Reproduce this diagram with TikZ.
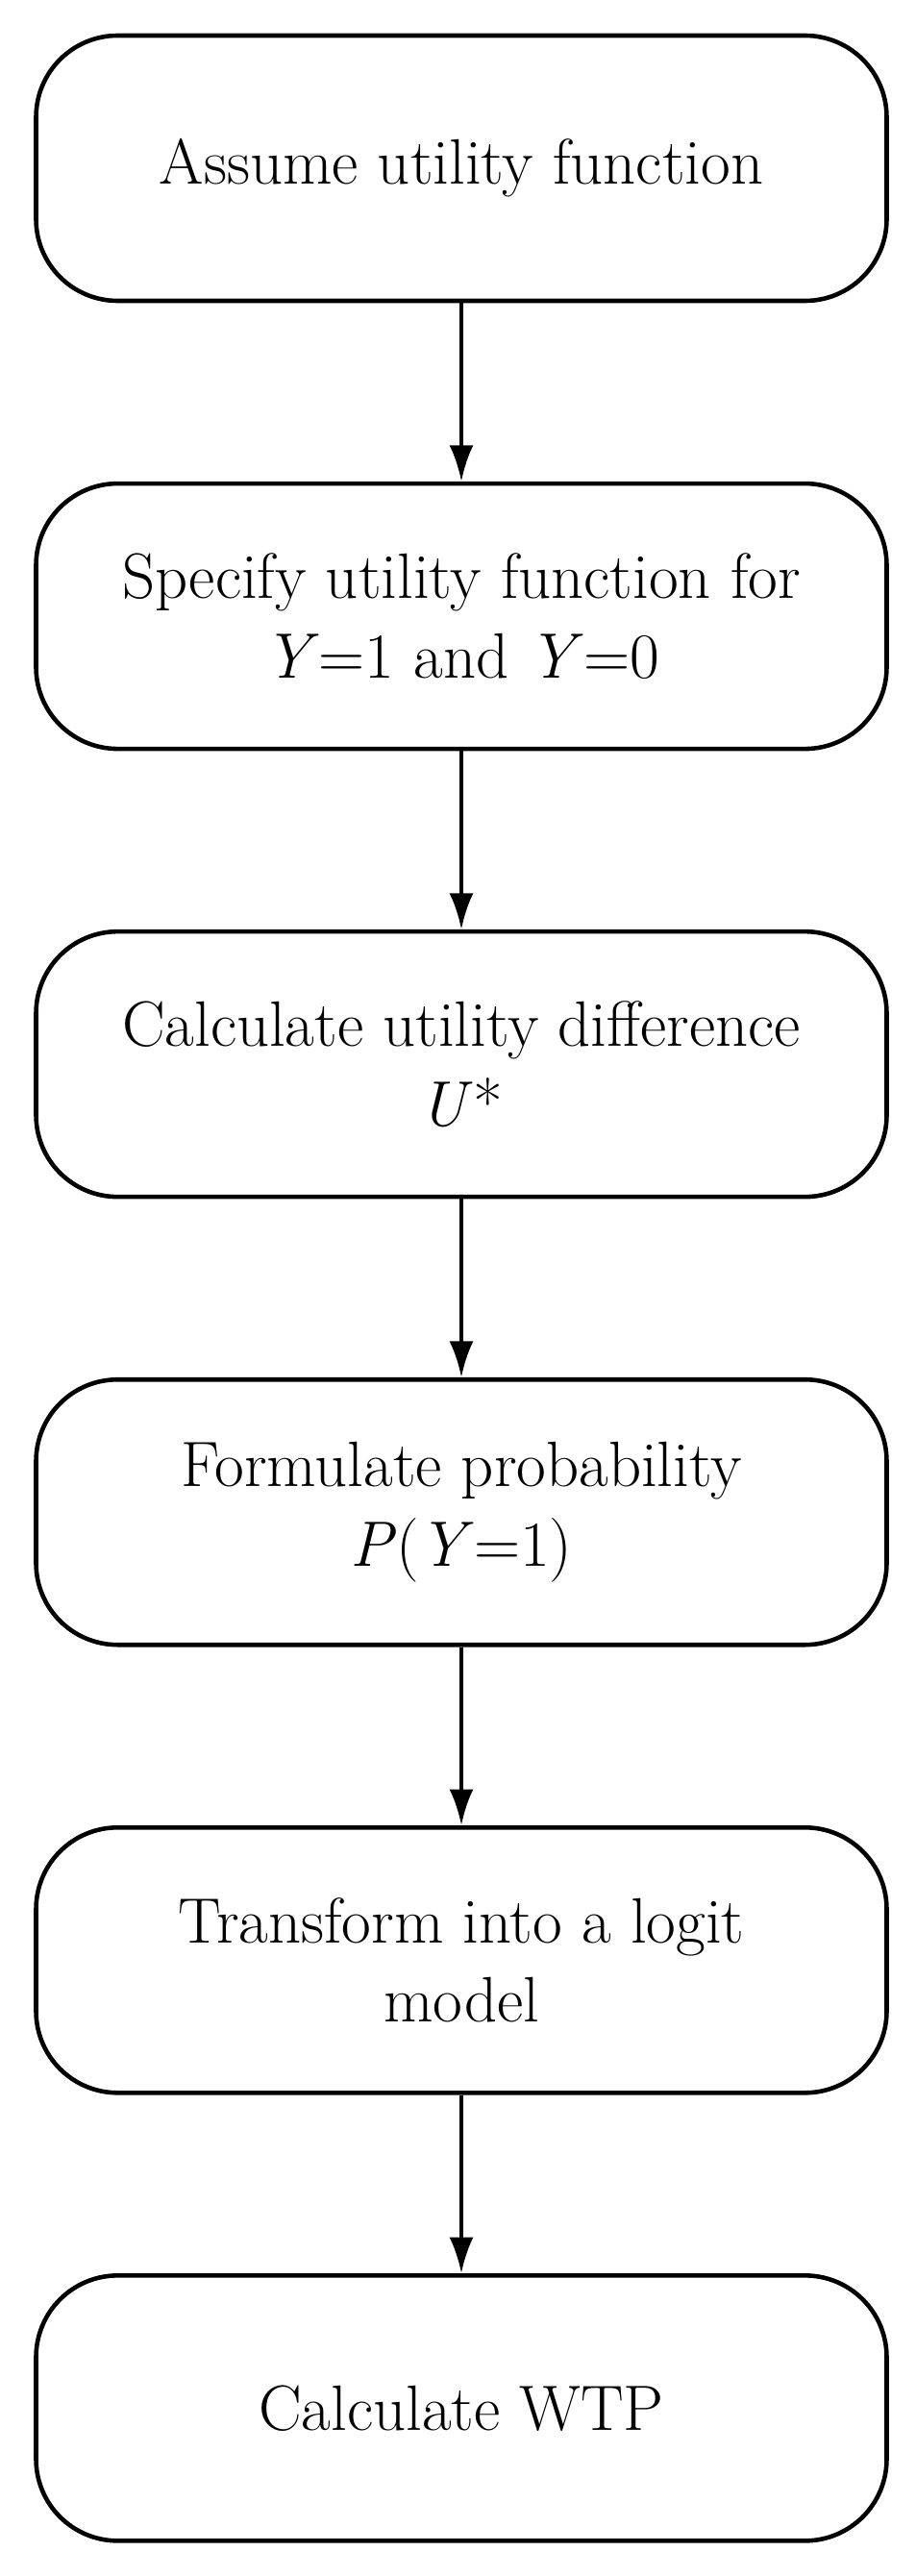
\documentclass[tikz,border=0pt]{standalone}
\usepackage{amsmath}
\usetikzlibrary{arrows.meta,positioning}

\begin{document}
\begin{tikzpicture}[
  font=\fontsize{38}{47}\selectfont,
  stage/.style={draw,line width=2.6pt,rounded corners=1.7cm,align=center,
    minimum width=17.7cm,minimum height=5.52cm,inner sep=0pt},
  flow/.style={-{Latex[length=0.75cm,width=0.5cm]},line width=2.4pt},
  node distance=3.71cm
]
% page frame
\useasboundingbox (0,0) rectangle (19.04,-53.6);

% stages
\node[stage] (assume)    at (9.6,-3.5) {Assume utility function};
\node[stage,below=of assume]    (specify)   {Specify utility function for\\\textit{Y}=1 and \textit{Y}=0};
\node[stage,below=of specify]   (diff)      {Calculate utility difference\\\textit{U}*};
\node[stage,below=of diff]      (prob)      {Formulate probability\\\textit{P}(\textit{Y}=1)};
\node[stage,below=of prob]      (logit)     {Transform into a logit\\model};
\node[stage,below=of logit]     (wtp)       {Calculate WTP};

% arrows
\foreach \a/\b in {assume/specify,specify/diff,diff/prob,prob/logit,logit/wtp}
  \draw[flow] (\a) -- (\b);
\end{tikzpicture}
\end{document}
